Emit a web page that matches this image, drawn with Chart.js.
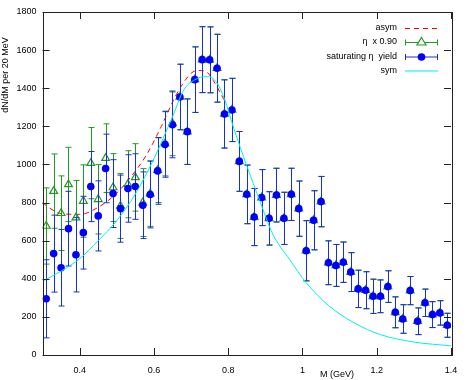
<!DOCTYPE html>
<html>
<head>
<meta charset="utf-8">
<script src="https://cdn.jsdelivr.net/npm/chart.js@4/dist/chart.umd.min.js"></script>
<style>
  html, body { margin: 0; padding: 0; background: #fff; }
</style>
</head>
<body>
<canvas id="massChart" width="471" height="380"></canvas>
<script>
// bin centres (GeV), 20 MeV bins
const mass = [0.31, 0.33, 0.35, 0.37, 0.39, 0.41, 0.43, 0.45, 0.47, 0.49,
              0.51, 0.53, 0.55, 0.57, 0.59, 0.61, 0.63, 0.65, 0.67, 0.69,
              0.71, 0.73, 0.75, 0.77, 0.79, 0.81, 0.83, 0.85, 0.87, 0.89,
              0.91, 0.93, 0.95, 0.97, 0.99, 1.01, 1.03, 1.05, 1.07, 1.09,
              1.11, 1.13, 1.15, 1.17, 1.19, 1.21, 1.23, 1.25, 1.27, 1.29,
              1.31, 1.33, 1.35, 1.37, 1.39];

// saturating eta yield
const satYield = [295, 532, 458, 663, 526, 642, 884, 730, 979, 847,
                  768, 874, 884, 786, 842, 966, 1105, 1208, 1354, 1172,
                  1445, 1550, 1549, 1505, 1265, 1286, 1016, 843, 724, 826,
                  717, 839, 717, 843, 768, 547, 707, 805, 484, 470,
                  487, 435, 347, 340, 308, 308, 359, 224, 189, 338,
                  177, 274, 212, 221, 156];
const satErr = [205, 202, 201, 196, 195, 191, 184, 184, 180, 178,
                176, 177, 172, 175, 175, 175, 172, 173, 172, 172,
                172, 173, 173, 178, 179, 166, 157, 154, 150, 147,
                140, 141, 137, 137, 145, 158, 155, 132, 115, 110,
                106, 102, 98, 97, 90, 86, 83, 81, 75, 74,
                70, 72, 68, 64, 63];

// eta x 0.90
const etaYield = [677, 860, 744, 895, 721, 808, 1007, 817, 1033, 879,
                  782, 896, 932, 800, 847, 970, 1110, 1216, 1354, 1172,
                  1445, 1550, 1549, 1505, 1265, 1286, 1016, 843, 724, 826,
                  717, 839, 717, 843, 768, 547, 707, 805, 484, 470,
                  487, 435, 347, 340, 308, 308, 359, 224, 189, 338,
                  177, 274, 212, 221, 156];
const etaErr = [200, 195, 196, 195, 195, 190, 187, 182, 180, 178,
                170, 176, 177, 178, 172, 170, 170, 170, 172, 172,
                172, 173, 173, 178, 179, 166, 157, 154, 150, 147,
                140, 141, 137, 137, 145, 158, 155, 132, 115, 110,
                106, 102, 98, 97, 90, 86, 83, 81, 75, 74,
                70, 72, 68, 64, 63];

// fit curves
const asymMass = [0.30, 0.32, 0.35, 0.40, 0.45, 0.50, 0.54, 0.58, 0.62, 0.66, 0.70, 0.72, 0.74, 0.76, 0.79];
const asymVal  = [800, 770, 742, 738, 775, 850, 940, 1050, 1200, 1365, 1478, 1493, 1488, 1440, 1335];

const symMass = [0.30, 0.35, 0.40, 0.45, 0.50, 0.55, 0.60, 0.65, 0.68, 0.71, 0.74, 0.765, 0.79,
                 0.815, 0.85, 0.885, 0.92, 0.965, 1.01, 1.07, 1.14, 1.21, 1.30, 1.40];
const symVal  = [387, 440, 505, 600, 705, 845, 1030, 1250, 1390, 1444, 1461, 1440, 1344,
                 1190, 993, 810, 635, 502, 380, 260, 168, 107, 68, 48];

const xTickValues = [0.4, 0.6, 0.8, 1, 1.2, 1.4];
const yTickValues = [0, 200, 400, 600, 800, 1000, 1200, 1400, 1600, 1800];

const FONT = '"Liberation Sans", Arial, sans-serif';
const RED = '#ff0000', GREEN = '#229922', BLUE = '#0000ff', BAR_BLUE = '#1a2fd6', CYAN = '#00eeee';

function pts(xs, ys) {
    return xs.map((x, i) => ({ x: x, y: ys[i] }));
}

// error bars, drawn just before their own dataset
const errorBars = {
    id: 'errorBars',
    beforeDatasetDraw(chart, args) {
        const ds = chart.data.datasets[args.index];
        if (!ds.errors) return;
        const ctx = chart.ctx, xs = chart.scales.x, ys = chart.scales.y;
        ctx.save();
        ctx.strokeStyle = ds.errColor;
        ctx.lineWidth = 1;
        ds.data.forEach((p, i) => {
            const px = Math.round(xs.getPixelForValue(p.x)) + 0.5;
            const top = ys.getPixelForValue(p.y + ds.errors[i]);
            const bot = ys.getPixelForValue(p.y - ds.errors[i]);
            ctx.beginPath();
            ctx.moveTo(px, top); ctx.lineTo(px, bot);
            ctx.moveTo(px - 3, top); ctx.lineTo(px + 3, top);
            ctx.moveTo(px - 3, bot); ctx.lineTo(px + 3, bot);
            ctx.stroke();
        });
        ctx.restore();
    }
};

// gnuplot style frame, inward ticks, axis titles and key
const frame = {
    id: 'frame',
    afterDraw(chart) {
        const ctx = chart.ctx, a = chart.chartArea, xs = chart.scales.x, ys = chart.scales.y;
        ctx.save();
        ctx.strokeStyle = '#222';
        ctx.lineWidth = 1;
        ctx.strokeRect(Math.round(a.left) + 0.5, Math.round(a.top) + 0.5,
                       Math.round(a.right - a.left), Math.round(a.bottom - a.top));
        ctx.beginPath();
        xTickValues.forEach(v => {
            const px = Math.round(xs.getPixelForValue(v)) + 0.5;
            ctx.moveTo(px, a.bottom); ctx.lineTo(px, a.bottom - 7);
            ctx.moveTo(px, a.top); ctx.lineTo(px, a.top + 7);
        });
        yTickValues.forEach(v => {
            const py = Math.round(ys.getPixelForValue(v)) + 0.5;
            ctx.moveTo(a.left, py); ctx.lineTo(a.left + 7, py);
            ctx.moveTo(a.right, py); ctx.lineTo(a.right - 7, py);
        });
        ctx.stroke();

        // axis titles
        ctx.fillStyle = '#000';
        ctx.font = '9px ' + FONT;
        ctx.textAlign = 'center';
        ctx.textBaseline = 'middle';
        ctx.fillText('M (GeV)', 337, 375);
        ctx.save();
        ctx.translate(6, 75);
        ctx.rotate(-Math.PI / 2);
        ctx.fillText('dN/dM per 20 MeV', 0, 0);
        ctx.restore();

        // key
        const tx = 397, sx0 = 405, sx1 = 438, mid = (sx0 + sx1) / 2;
        const rows = [28, 42, 56.5, 70.5];
        ctx.textAlign = 'right';
        ctx.fillText('asym', tx, rows[0]);
        ctx.fillText('\u03b7  x 0.90', tx, rows[1]);
        ctx.fillText('saturating \u03b7  yield', tx, rows[2]);
        ctx.fillText('sym', tx, rows[3]);

        ctx.strokeStyle = RED;
        ctx.setLineDash([5, 4]);
        ctx.beginPath(); ctx.moveTo(sx0, rows[0] + 0.5); ctx.lineTo(sx1, rows[0] + 0.5); ctx.stroke();
        ctx.setLineDash([]);

        [[rows[1], GREEN], [rows[2], BAR_BLUE]].forEach(r => {
            const y = r[0] + 0.5;
            ctx.strokeStyle = r[1];
            ctx.beginPath();
            ctx.moveTo(sx0, y); ctx.lineTo(sx1, y);
            ctx.moveTo(sx0 + 0.5, y - 3); ctx.lineTo(sx0 + 0.5, y + 3);
            ctx.moveTo(sx1 - 0.5, y - 3); ctx.lineTo(sx1 - 0.5, y + 3);
            ctx.stroke();
        });
        ctx.strokeStyle = GREEN;
        ctx.lineWidth = 1.2;
        ctx.fillStyle = '#fff';
        ctx.beginPath();
        ctx.moveTo(mid, rows[1] - 4.5);
        ctx.lineTo(mid + 4.5, rows[1] + 3);
        ctx.lineTo(mid - 4.5, rows[1] + 3);
        ctx.closePath();
        ctx.fill(); ctx.stroke();
        ctx.fillStyle = BLUE;
        ctx.beginPath(); ctx.arc(mid, rows[2] + 0.5, 3.8, 0, Math.PI * 2); ctx.fill();

        ctx.strokeStyle = CYAN;
        ctx.lineWidth = 1;
        ctx.beginPath(); ctx.moveTo(sx0, rows[3] + 0.5); ctx.lineTo(sx1, rows[3] + 0.5); ctx.stroke();
        ctx.restore();
    }
};

new Chart(document.getElementById('massChart'), {
    type: 'scatter',
    data: {
        datasets: [
            {
                label: 'sym',
                data: pts(symMass, symVal),
                showLine: true,
                borderColor: CYAN,
                borderWidth: 1,
                pointRadius: 0,
                cubicInterpolationMode: 'monotone',
                order: 0
            },
            {
                label: 'saturating \u03b7 yield',
                data: pts(mass, satYield),
                errors: satErr,
                errColor: BAR_BLUE,
                backgroundColor: BLUE,
                borderWidth: 0,
                pointRadius: 3.8,
                pointStyle: 'circle',
                order: 1
            },
            {
                label: '\u03b7 x 0.90',
                data: pts(mass, etaYield),
                errors: etaErr,
                errColor: GREEN,
                backgroundColor: 'rgba(0,0,0,0)',
                borderColor: GREEN,
                borderWidth: 1.2,
                pointRadius: 4.5,
                pointStyle: 'triangle',
                order: 2
            },
            {
                label: 'asym',
                data: pts(asymMass, asymVal),
                showLine: true,
                borderColor: RED,
                borderWidth: 1,
                borderDash: [5, 4],
                pointRadius: 0,
                cubicInterpolationMode: 'monotone',
                order: 3
            }
        ]
    },
    options: {
        responsive: false,
        animation: false,
        layout: { padding: { top: 12, right: 20, left: 0, bottom: 0 } },
        plugins: { legend: { display: false }, tooltip: { enabled: false } },
        scales: {
            x: {
                type: 'linear',
                min: 0.3,
                max: 1.4,
                afterBuildTicks: s => { s.ticks = xTickValues.map(v => ({ value: v })); },
                afterFit: s => { s.height = 25; },
                grid: { display: false, drawTicks: false },
                border: { display: false },
                ticks: {
                    color: '#000',
                    font: { family: FONT, size: 9 },
                    padding: 10,
                    maxRotation: 0,
                    autoSkip: false,
                    callback: v => String(v)
                }
            },
            y: {
                min: 0,
                max: 1800,
                afterBuildTicks: s => { s.ticks = yTickValues.map(v => ({ value: v })); },
                afterFit: s => { s.width = 42.5; },
                grid: { display: false, drawTicks: false },
                border: { display: false },
                ticks: {
                    color: '#000',
                    font: { family: FONT, size: 9 },
                    padding: 6,
                    callback: v => String(v)
                }
            }
        }
    },
    plugins: [errorBars, frame]
});
</script>
</body>
</html>
